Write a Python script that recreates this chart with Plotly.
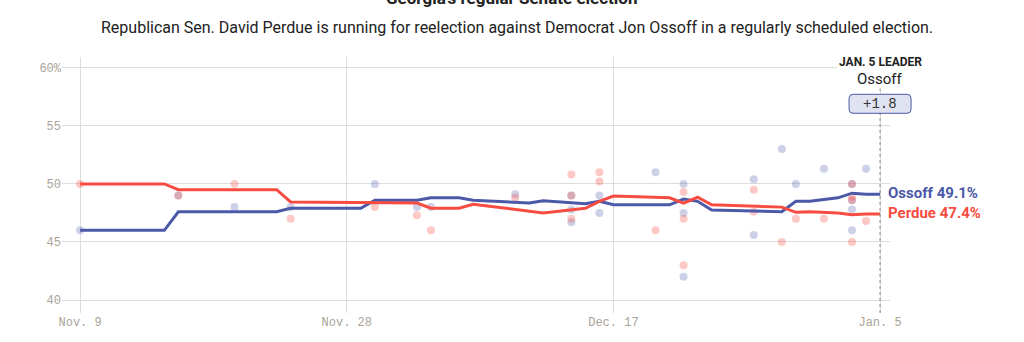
import plotly.graph_objects as go
import pandas as pd

# ---- data ----
ossoff_line_dates = ["2020-11-09", "2020-11-15", "2020-11-16", "2020-11-23", "2020-11-24", "2020-11-29",
                     "2020-11-30", "2020-12-03", "2020-12-04", "2020-12-06", "2020-12-07", "2020-12-11",
                     "2020-12-12", "2020-12-15", "2020-12-16", "2020-12-17", "2020-12-21", "2020-12-22",
                     "2020-12-23", "2020-12-24", "2020-12-29", "2020-12-30", "2020-12-31", "2021-01-02",
                     "2021-01-03", "2021-01-04", "2021-01-05"]
ossoff_line_values = [46.0, 46.0, 47.6, 47.6, 47.9, 47.9,
                      48.6, 48.6, 48.8, 48.8, 48.6, 48.35,
                      48.55, 48.3, 48.5, 48.2, 48.2, 48.7,
                      48.5, 47.75, 47.6, 48.5, 48.5, 48.8,
                      49.2, 49.1, 49.1]

perdue_line_dates = ["2020-11-09", "2020-11-15", "2020-11-16", "2020-11-23", "2020-11-24", "2020-11-30",
                     "2020-12-03", "2020-12-04", "2020-12-06", "2020-12-07", "2020-12-12", "2020-12-15",
                     "2020-12-16", "2020-12-17", "2020-12-21", "2020-12-22", "2020-12-23", "2020-12-24",
                     "2020-12-29", "2020-12-30", "2020-12-31", "2021-01-02", "2021-01-03", "2021-01-04",
                     "2021-01-05"]
perdue_line_values = [50.0, 50.0, 49.5, 49.5, 48.45, 48.4,
                      48.35, 47.9, 47.9, 48.25, 47.5, 47.9,
                      48.5, 48.95, 48.8, 48.35, 48.85, 48.2,
                      48.0, 47.55, 47.6, 47.5, 47.35, 47.4,
                      47.4]

ossoff_poll_dates = ["2020-11-09", "2020-11-16", "2020-11-20", "2020-11-24", "2020-11-30", "2020-12-03",
                     "2020-12-04", "2020-12-10", "2020-12-14", "2020-12-14", "2020-12-14", "2020-12-16",
                     "2020-12-16", "2020-12-20", "2020-12-22", "2020-12-22", "2020-12-22", "2020-12-27",
                     "2020-12-27", "2020-12-29", "2020-12-30", "2021-01-01", "2021-01-03", "2021-01-03",
                     "2021-01-03", "2021-01-03", "2021-01-04"]
ossoff_poll_values = [46, 49, 48, 48, 50, 48,
                      48, 49.1, 49, 47.8, 46.7, 49,
                      47.5, 51, 50, 47.5, 42, 50.4,
                      45.6, 53, 50, 51.3, 50, 48.6,
                      47.8, 46, 51.3]

perdue_poll_dates = ["2020-11-09", "2020-11-16", "2020-11-20", "2020-11-24", "2020-11-30", "2020-12-03",
                     "2020-12-04", "2020-12-10", "2020-12-14", "2020-12-14", "2020-12-14", "2020-12-16",
                     "2020-12-16", "2020-12-20", "2020-12-22", "2020-12-22", "2020-12-22", "2020-12-27",
                     "2020-12-27", "2020-12-29", "2020-12-30", "2021-01-01", "2021-01-03", "2021-01-03",
                     "2021-01-03", "2021-01-03", "2021-01-04"]
perdue_poll_values = [50, 49, 50, 47, 48, 47.3,
                      46, 48.8, 50.8, 49, 47, 51,
                      50.2, 46, 49.3, 47, 43, 49.5,
                      47.6, 45, 47, 47, 50, 48.9,
                      48.6, 45, 46.8]

x_tick_vals = ["2020-11-09", "2020-11-28", "2020-12-17", "2021-01-05"]
x_tick_text = ["Nov. 9", "Nov. 28", "Dec. 17", "Jan. 5"]
y_tick_vals = [40, 45, 50, 55, 60]
y_tick_text = ["40", "45", "50", "55", "60%"]

title_text = "Georgia's regular Senate election"
subtitle_text = "Republican Sen. David Perdue is running for reelection against Democrat Jon Ossoff in a regularly scheduled election."
leader_date = "2021-01-05"
leader_name = "Ossoff"
leader_margin = "+1.8"
ossoff_latest = 49.1
perdue_latest = 47.4

# ---- style ----
BLUE = "#4b59a8"
RED = "#f64c42"
BLUE_DOT = "rgba(75,89,168,0.28)"
RED_DOT = "rgba(246,76,66,0.30)"
TICK_COLOR = "#a9a398"
GRID = "#dddddd"
MONO = "Liberation Mono, DejaVu Sans Mono, monospace"
SANS = "Roboto, Liberation Sans, Arial, sans-serif"

X_RANGE = ["2020-11-07 17:00", "2021-01-05 17:00"]
Y_RANGE = [38.88, 60.93]
L, R, T, B = 62, 134, 57, 29
W, H = 1024, 342

fig = go.Figure()

fig.add_trace(go.Scatter(x=ossoff_poll_dates, y=ossoff_poll_values, mode="markers",
                         marker=dict(size=8, color=BLUE_DOT, line=dict(width=0)),
                         hoverinfo="skip", showlegend=False, cliponaxis=False))
fig.add_trace(go.Scatter(x=perdue_poll_dates, y=perdue_poll_values, mode="markers",
                         marker=dict(size=8, color=RED_DOT, line=dict(width=0)),
                         hoverinfo="skip", showlegend=False, cliponaxis=False))
fig.add_trace(go.Scatter(x=ossoff_line_dates, y=ossoff_line_values, mode="lines",
                         line=dict(color=BLUE, width=3), showlegend=False))
fig.add_trace(go.Scatter(x=perdue_line_dates, y=perdue_line_values, mode="lines",
                         line=dict(color=RED, width=3), showlegend=False))

fig.update_xaxes(type="date", range=X_RANGE,
                 tickmode="array", tickvals=x_tick_vals, ticktext=x_tick_text,
                 showgrid=True, gridcolor=GRID, gridwidth=1, zeroline=False, showline=False,
                 tickfont=dict(family=MONO, size=12, color=TICK_COLOR), ticks="", fixedrange=True)
fig.update_yaxes(range=Y_RANGE, tickmode="array", tickvals=y_tick_vals, ticktext=y_tick_text,
                 showgrid=True, gridcolor=GRID, gridwidth=1, zeroline=False, showline=False,
                 tickfont=dict(family=MONO, size=12, color=TICK_COLOR), ticks="", fixedrange=True)

# paper position of the leader date (so the box is not clipped by the plot area)
_x0 = pd.Timestamp(X_RANGE[0]); _x1 = pd.Timestamp(X_RANGE[1])
leader_px = (pd.Timestamp(leader_date) - _x0) / (_x1 - _x0)
box_value = 56.9
box_py = (box_value - Y_RANGE[0]) / (Y_RANGE[1] - Y_RANGE[0])

# dotted leader line
fig.add_shape(type="line", xref="x", yref="paper", x0=leader_date, x1=leader_date, y0=0, y1=1,
              line=dict(color="#888888", width=1, dash="dot"), layer="above")
# rounded box behind margin text
fig.add_shape(type="path", xref="paper", yref="paper", xsizemode="pixel", ysizemode="pixel",
              xanchor=leader_px, yanchor=box_py,
              path="M -27,-9.5 L 27,-9.5 Q 31,-9.5 31,-5.5 L 31,5.5 Q 31,9.5 27,9.5 L -27,9.5 "
                   "Q -31,9.5 -31,5.5 L -31,-5.5 Q -31,-9.5 -27,-9.5 Z",
              fillcolor="#dfe2f1", line=dict(color=BLUE, width=1), layer="above")

ann = []
ann.append(dict(text="<b>" + title_text + "</b>", xref="paper", yref="paper", x=(512 - L) / (W - L - R), y=1,
                xanchor="center", yanchor="middle", yshift=59, showarrow=False,
                font=dict(family=SANS, size=17, color="#222222")))
ann.append(dict(text=subtitle_text, xref="paper", yref="paper", x=(517 - L) / (W - L - R), y=1,
                xanchor="center", yanchor="middle", yshift=30, showarrow=False,
                font=dict(family=SANS, size=16, color="#222222")))
ann.append(dict(text="<b>JAN. 5 LEADER</b>", xref="paper", yref="y", x=leader_px, y=60.52,
                xanchor="center", yanchor="middle", showarrow=False, bgcolor="white", borderpad=2,
                font=dict(family=SANS, size=12, color="#222222")))
ann.append(dict(text=leader_name, xref="paper", yref="y", x=leader_px, y=59.05,
                xanchor="center", yanchor="middle", showarrow=False, bgcolor="white", borderpad=0,
                font=dict(family=SANS, size=15, color="#222222")))
ann.append(dict(text=leader_margin, xref="paper", yref="y", x=leader_px, y=box_value,
                xanchor="center", yanchor="middle", showarrow=False,
                font=dict(family=MONO, size=14, color="#333333")))
ann.append(dict(text="<b>Ossoff %.1f%%</b>" % ossoff_latest, xref="x", yref="y", x=leader_date,
                y=ossoff_latest, xanchor="left", yanchor="middle", xshift=6, yshift=1, showarrow=False,
                font=dict(family=SANS, size=15, color=BLUE)))
ann.append(dict(text="<b>Perdue %.1f%%</b>" % perdue_latest, xref="x", yref="y", x=leader_date,
                y=perdue_latest, xanchor="left", yanchor="middle", xshift=6, yshift=1, showarrow=False,
                font=dict(family=SANS, size=15, color=RED)))

fig.update_layout(width=W, height=H, margin=dict(l=L, r=R, t=T, b=B, autoexpand=False),
                  paper_bgcolor="white", plot_bgcolor="white", annotations=ann,
                  hovermode=False, showlegend=False)

fig.write_html("out.html", config={"displayModeBar": False})
